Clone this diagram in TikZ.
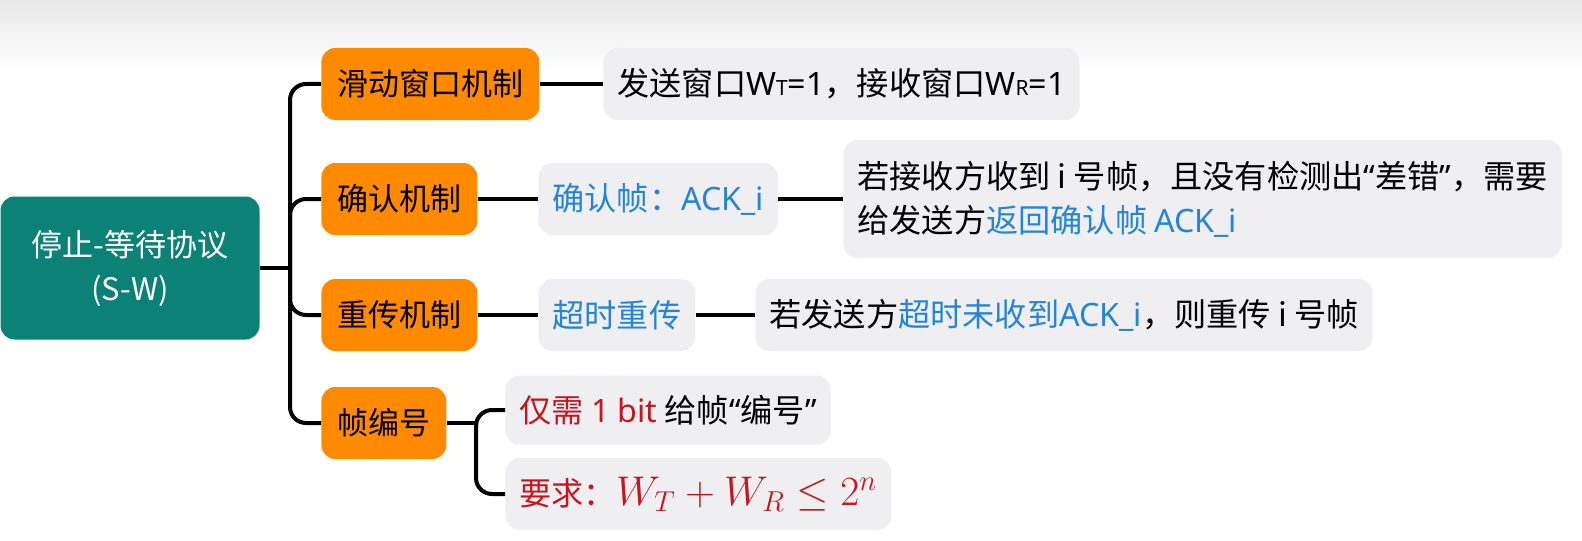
\documentclass[tikz,border=0pt]{standalone}
\usepackage{fontspec}
\setmainfont{Noto Sans CJK SC}
\newfontfamily\latfont{Noto Sans}
\usetikzlibrary{calc}
\definecolor{rootteal}{HTML}{0C8276}
\definecolor{topicorange}{HTML}{FF8A00}
\definecolor{leafgray}{HTML}{EFEFF2}
\definecolor{noteblue}{HTML}{2485D8}
\definecolor{notered}{HTML}{C8141E}
\newcommand{\cjksize}{\fontsize{15.5pt}{22pt}\selectfont}
\newcommand{\leafsize}{\fontsize{16.1pt}{22pt}\selectfont}
\newcommand{\subsc}[1]{{\fontsize{10.5pt}{10.5pt}\selectfont #1}}
\newcommand{\lat}[1]{{\latfont #1}}
\tikzset{
  link/.style={line width=2pt, draw=black, rounded corners=8pt},
  rootbox/.style={fill=rootteal, text=white, rounded corners=7pt, minimum width=129.5pt, minimum height=71.5pt, align=center, font=\cjksize},
  topic/.style={fill=topicorange, rounded corners=7pt, minimum height=36pt, inner xsep=8pt, anchor=west, font=\cjksize},
  leaf/.style={fill=leafgray, rounded corners=7pt, minimum height=36pt, inner xsep=7pt, anchor=west, font=\leafsize}
}

\begin{document}
\begin{tikzpicture}[x=0.5pt, y=-0.5pt]
  \useasboundingbox (0,0) rectangle (1582,540);
  \fill[white] (0,0) rectangle (1582,540);
  \shade[top color=black!9, bottom color=white] (0,0) rectangle (1582,70);

  \node[rootbox] (root) at (130,268) {停止-等待协议\\(S-W)};

  \node[topic] (slide) at (321,84) {滑动窗口机制};
  \node[topic] (ack) at (321,199) {确认机制};
  \node[topic] (retx) at (321,315) {重传机制};
  \node[topic] (seq) at (321,423) {帧编号};

  \node[leaf] (win) at (603,84) {发送窗口\lat{W\subsc{T}=1}，接收窗口\lat{W\subsc{R}=1}};
  \node[leaf, text=noteblue] (ackframe) at (538,199) {确认帧：\lat{ACK\_i}};
  \node[leaf, minimum height=59pt, align=left] (ackrule) at (843,199)
    {若接收方收到 i 号帧，且没有检测出\lat{“}差错\lat{”}，需要\\给发送方\textcolor{noteblue}{返回确认帧 \lat{ACK\_i}}};
  \node[leaf, text=noteblue] (timeout) at (538,315) {超时重传};
  \node[leaf] (timerule) at (755,315) {若发送方\textcolor{noteblue}{超时未收到\lat{ACK\_i}}，则重传 i 号帧};
  \node[leaf, minimum height=34.5pt] (onebit) at (505,410) {\textcolor{notered}{仅需 \lat{1 bit}} 给帧\lat{“}编号\lat{”}};
  \node[leaf, text=notered] (bound) at (505,494) {要求：{\fontsize{19.6pt}{22pt}\selectfont$W_T+W_R\leq 2^n$}};

  \coordinate (trunk) at (290,268);
  \coordinate (fork) at (476,423);

  \draw[link] (root.east) -- (trunk);
  \draw[link] (trunk) |- (slide.west);
  \draw[link] (trunk) |- (ack.west);
  \draw[link] (trunk) |- (retx.west);
  \draw[link] (trunk) |- (seq.west);
  \draw[link] (slide) -- (win);
  \draw[link] (ack) -- (ackframe) -- (ackrule);
  \draw[link] (retx) -- (timeout) -- (timerule);
  \draw[link] (seq.east) -- (fork);
  \draw[link] (fork) |- (onebit.west);
  \draw[link] (fork) |- (bound.west);
\end{tikzpicture}
\end{document}
